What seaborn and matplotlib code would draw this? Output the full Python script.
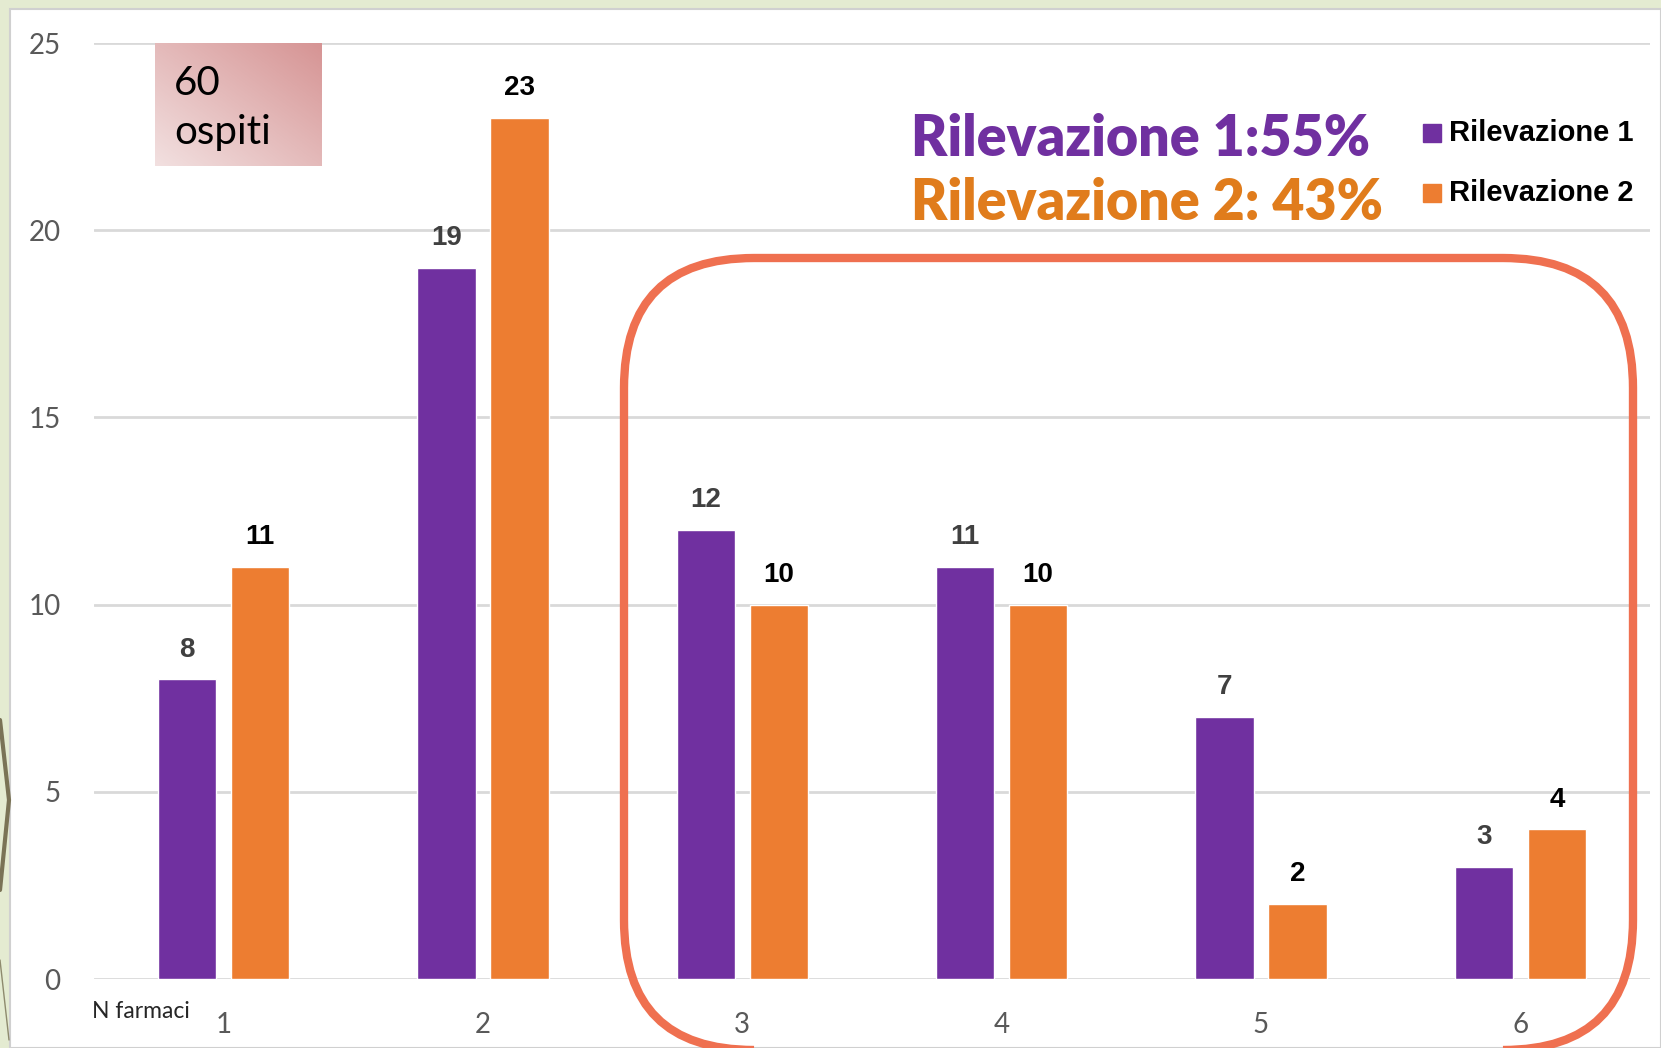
import matplotlib
matplotlib.use("Agg")
import matplotlib.pyplot as plt
import numpy as np
import pandas as pd
import seaborn as sns
from matplotlib.patches import Rectangle, FancyBboxPatch
from matplotlib.colors import LinearSegmentedColormap

# data
categories = ["1", "2", "3", "4", "5", "6"]
series_names = ["Rilevazione 1", "Rilevazione 2"]
rilevazione_1 = [8, 19, 12, 11, 7, 3]
rilevazione_2 = [11, 23, 10, 10, 2, 4]
y_ticks = [0, 5, 10, 15, 20, 25]
headline_1 = "Rilevazione 1:55%"
headline_2 = "Rilevazione 2: 43%"
box_text = "60\nospiti"
x_title = "N farmaci"

purple = "#7030A0"
orange = "#ED7D31"

df = pd.DataFrame({
    "farmaci": categories * 2,
    "serie": [series_names[0]] * len(categories) + [series_names[1]] * len(categories),
    "valore": rilevazione_1 + rilevazione_2,
})

W, H = 1661, 1048
sns.set_theme(style="white")
plt.rcParams["font.family"] = ["Lato", "DejaVu Sans"]

fig = plt.figure(figsize=(W / 100, H / 100), dpi=100)


def py(y):
    # pixel row (from top) -> overlay y (from bottom)
    return H - y


# background (slide) in pixel coordinates
bg = fig.add_axes([0, 0, 1, 1], zorder=0)
bg.set_xlim(0, W)
bg.set_ylim(0, H)
bg.axis("off")
bg.add_patch(Rectangle((0, 0), W, H, color="#E4EBD1"))
bg.add_patch(Rectangle((10, 0), W - 10, py(9), facecolor="white",
                       edgecolor="#D0D0D0", lw=1.5))
bg.plot([0, 9, 0], [py(720), py(800), py(890)], color="#7A7356", lw=3)
bg.plot([0, 9], [py(960), py(1040)], color="#8E8A6E", lw=1)

# main chart
ax_left, ax_right, ax_top, ax_bottom = 94, 1650, 43, 979
ax = fig.add_axes([ax_left / W, 1 - ax_bottom / H,
                   (ax_right - ax_left) / W, (ax_bottom - ax_top) / H], zorder=1)
ax.patch.set_alpha(0)

sns.barplot(data=df, x="farmaci", y="valore", hue="serie",
            palette=[purple, orange], width=0.563, gap=0.205,
            saturation=1, ax=ax, legend=False, zorder=3)

ax.set_xlim(-0.5, len(categories) - 0.5)
ax.set_ylim(0, 25)
ax.set_yticks(y_ticks)
ax.grid(axis="y", color="#D9D9D9", lw=2, zorder=0)
ax.grid(axis="x", visible=False)
for s in ax.spines.values():
    s.set_visible(False)
ax.set_xlabel("")
ax.set_ylabel("")
ax.tick_params(axis="y", length=0, pad=24, labelsize=20, labelcolor="#595959")
ax.tick_params(axis="x", length=0, pad=24, labelsize=20, labelcolor="#595959")

label_colors = ["#404040", "#000000"]
for cont, col in zip(ax.containers, label_colors):
    ax.bar_label(cont, padding=12, fontsize=20, fontweight="bold", color=col,
                 family=["Liberation Sans Narrow", "Liberation Sans", "DejaVu Sans"])

# overlay with annotations in pixel coordinates (y measured from bottom)
ov = fig.add_axes([0, 0, 1, 1], zorder=2)
ov.axis("off")
ov.patch.set_alpha(0)

# gradient box "60 ospiti"
grad = LinearSegmentedColormap.from_list("pink", ["#F2E0E0", "#D69494"])
gx, gy = np.meshgrid(np.linspace(0, 1, 100), np.linspace(0, 1, 100))
ov.imshow((gx + gy) / 2, cmap=grad, extent=(155, 322, py(166), py(43)),
          origin="lower", aspect="auto", zorder=1)
ov.text(174, py(108), box_text, fontsize=29, color="black", ha="left",
        va="center", linespacing=1.4, zorder=2)

# headlines
ov.text(911, py(139), headline_1, fontsize=40, fontweight="heavy", color=purple,
        ha="left", va="center")
ov.text(911, py(203), headline_2, fontsize=40, fontweight="heavy", color="#E07C1C",
        ha="left", va="center")

# legend
leg_font = ["Liberation Sans Narrow", "Liberation Sans", "DejaVu Sans"]
for name, col, yc in zip(series_names, [purple, orange], [133, 193]):
    ov.add_patch(Rectangle((1423, py(yc) - 9), 18, 18, color=col))
    ov.text(1449, py(yc), name, fontsize=21, fontweight="bold", color="black",
            ha="left", va="center", family=leg_font)

ov.text(92, py(1012), x_title, fontsize=16.5, color="#262626", ha="left", va="center")

# rounded highlight frame
frame_top, frame_bottom = 258, 1050
ov.add_patch(FancyBboxPatch((624, py(frame_bottom)), 1633 - 624, frame_bottom - frame_top,
                            boxstyle="round,pad=0,rounding_size=130",
                            facecolor="none", edgecolor="#EF7050", lw=6,
                            zorder=3))

ov.set_xlim(0, W)
ov.set_ylim(0, H)

fig.savefig("out.png", dpi=100)
